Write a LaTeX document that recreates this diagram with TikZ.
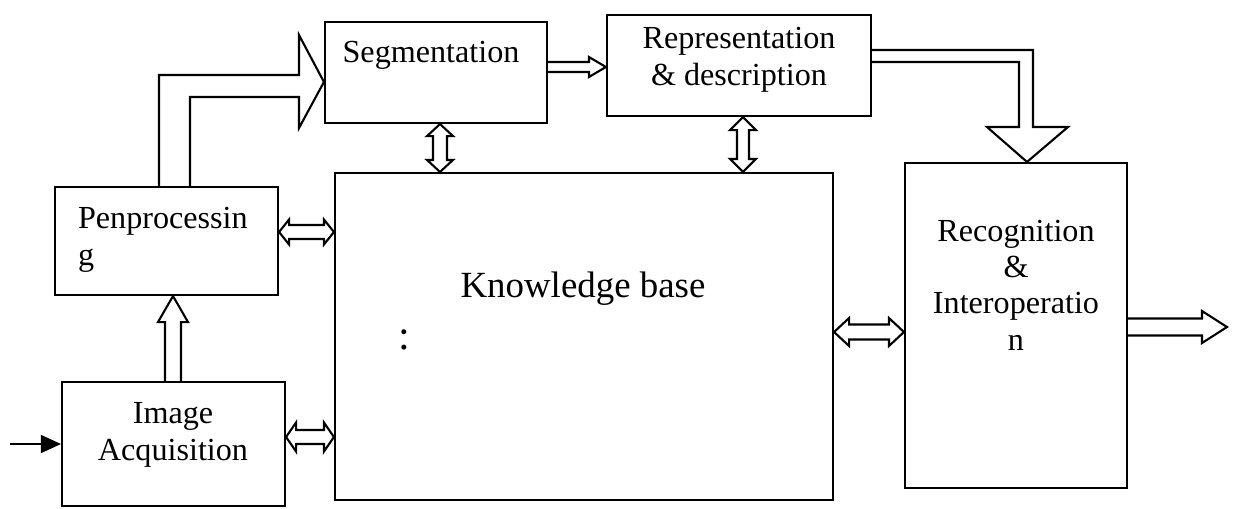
\documentclass[tikz,border=0pt]{standalone}
\usepackage{fontspec}
\setmainfont{Liberation Serif}
\usetikzlibrary{arrows.meta,calc,fit}
\tikzset{
  blk shaft/.store in=\blkshaft, blk head/.store in=\blkhead, blk len/.store in=\blklen,
  blk shaft=0.14cm, blk head=0.27cm, blk len=0.22cm,
  % hollow block arrow, one head at the target
  blkarrow/.style={line join=miter,to path={
    ($(\tikztostart)!\blkshaft!90:(\tikztotarget)$)
    -- ($(\tikztotarget)!\blklen!(\tikztostart)!\blkshaft!90:(\tikztotarget)$)
    -- ($(\tikztotarget)!\blklen!(\tikztostart)!\blkhead!90:(\tikztotarget)$)
    -- (\tikztotarget)
    -- ($(\tikztotarget)!\blklen!(\tikztostart)!\blkhead!-90:(\tikztotarget)$)
    -- ($(\tikztotarget)!\blklen!(\tikztostart)!\blkshaft!-90:(\tikztotarget)$)
    -- ($(\tikztostart)!\blkshaft!-90:(\tikztotarget)$)}},
  % hollow block arrow, heads at both ends
  dblarrow/.style={line join=miter,to path={
    -- ($(\tikztostart)!\blklen!(\tikztotarget)!\blkhead!90:(\tikztotarget)$)
    -- ($(\tikztostart)!\blklen!(\tikztotarget)!\blkshaft!90:(\tikztotarget)$)
    -- ($(\tikztotarget)!\blklen!(\tikztostart)!\blkshaft!90:(\tikztotarget)$)
    -- ($(\tikztotarget)!\blklen!(\tikztostart)!\blkhead!90:(\tikztotarget)$)
    -- (\tikztotarget)
    -- ($(\tikztotarget)!\blklen!(\tikztostart)!\blkhead!-90:(\tikztotarget)$)
    -- ($(\tikztotarget)!\blklen!(\tikztostart)!\blkshaft!-90:(\tikztotarget)$)
    -- ($(\tikztostart)!\blklen!(\tikztotarget)!\blkshaft!-90:(\tikztotarget)$)
    -- ($(\tikztostart)!\blklen!(\tikztotarget)!\blkhead!-90:(\tikztotarget)$)
    -- cycle}}
}
\begin{document}
\begin{tikzpicture}[x=0.02cm,y=-0.02cm,line width=1.2pt]
\tikzstyle{box}=[draw,inner sep=0pt]
\tikzstyle{txt}=[font=\fontsize{18.3}{20.5}\selectfont,align=center,inner sep=0pt]
\useasboundingbox (0,0) rectangle (1236,508);
% boxes
\node[box,fit={(325,22) (547,123)}] (seg) {};
\node[box,fit={(607,15) (871,116)}] (rep) {};
\node[box,fit={(55,187) (278,295)}] (pre) {};
\node[box,fit={(62,382) (285,506)}] (acq) {};
\node[box,fit={(335,173) (833,500)}] (kb) {};
\node[box,fit={(905,163) (1127,488)}] (rec) {};
% texts (base = last line)
\node[txt,anchor=base] (segt) at (431,62) {Segmentation};
\node[txt,anchor=base] (rept) at (739,85) {Representation\\\& description};
\node[txt,anchor=base west,align=left] (pret) at (77,265) {Penprocessin\\g};
\node[txt,anchor=base] (acqt) at (173,460) {Image\\Acquisition};
\node[txt,anchor=base,font=\fontsize{21}{24}\selectfont] (kbt) at (583,297) {Knowledge base};
\node[txt,anchor=base,font=\fontsize{24}{28}\selectfont] (kbc) at (404,349) {:};
\node[txt,anchor=base] (rect) at (1016,350) {Recognition\\\&\\Interoperatio\\n};
% connectors
\coordinate (in) at (10,444);
\coordinate (out) at (1227,327);
\draw[line width=0.8pt,-{Triangle[length=0.4cm,width=0.36cm]}] (in) -- (acq.west);
\draw[blkarrow,blk shaft=0.16cm,blk head=0.3cm,blk len=0.52cm] (acq.north -| 173,0) to (pre.south -| 173,0);
\draw[line join=miter] (pre.north -| 159,0) |- (299,75) -- (299,35) -- (seg.west |- 0,82) -- (299,128) -- (299,97) -| (pre.north -| 190,0);
\draw[blkarrow,blk shaft=0.1cm,blk head=0.2cm,blk len=0.34cm] (seg.east |- 0,67) to (rep.west |- 0,67);
\draw[line join=miter] (rep.east |- 0,50) -| (1033,127) -- (1068,127) -- (rec.north -| 1027,0) -- (987,127) -- (1019,127) |- (rep.east |- 0,62);
\draw[blkarrow,blk shaft=0.17cm,blk head=0.32cm,blk len=0.5cm] (rec.east |- 0,327) to (out);
\draw[dblarrow,blk head=0.25cm,blk len=0.2cm] (pre.east |- 0,232) to (kb.west |- 0,232);
\draw[dblarrow,blk head=0.29cm,blk len=0.2cm] (acq.east |- 0,437) to (kb.west |- 0,437);
\draw[dblarrow,blk shaft=0.15cm,blk head=0.28cm,blk len=0.3cm] (kb.east |- 0,332) to (rec.west |- 0,332);
\draw[dblarrow,blk head=0.26cm,blk len=0.24cm] (seg.south -| 440,0) to (kb.north -| 440,0);
\draw[dblarrow,blk shaft=0.12cm,blk head=0.26cm,blk len=0.26cm] (rep.south -| 743,0) to (kb.north -| 743,0);
\end{tikzpicture}
\end{document}
